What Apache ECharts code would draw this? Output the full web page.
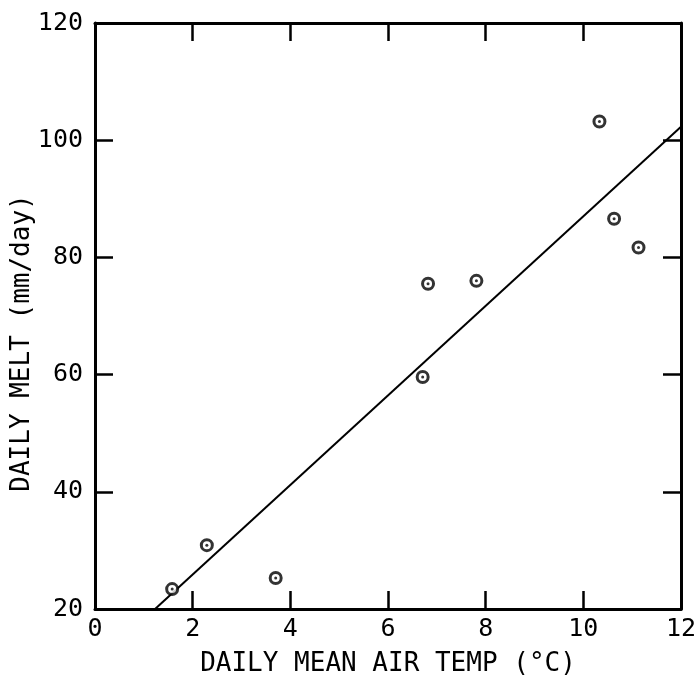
<!DOCTYPE html>
<html>
<head>
<meta charset="utf-8">
<script src="https://cdn.jsdelivr.net/npm/echarts@6/dist/echarts.min.js"></script>
<style>
html,body{margin:0;padding:0;background:#fff;}
#chart{width:700px;height:676px;}
</style>
</head>
<body>
<div id="chart"></div>
<script>
// Observed points: daily mean air temp (°C) vs daily melt (mm/day)
const airTemp = [1.58, 2.29, 3.70, 6.71, 6.82, 7.81, 10.33, 10.63, 11.13];
const dailyMelt = [23.4, 30.9, 25.3, 59.6, 75.5, 76.0, 103.2, 86.6, 81.7];
// Fitted line endpoints
const fitTemp = [1.23, 12.0];
const fitMelt = [20.0, 102.3];
const xTicks = [0, 2, 4, 6, 8, 10, 12];
const yTicks = [20, 40, 60, 80, 100, 120];
const xTitle = 'DAILY MEAN AIR TEMP (°C)';
const yTitle = 'DAILY MELT (mm/day)';

const font = "'DejaVu Sans Mono', 'Liberation Mono', monospace";
const pts = airTemp.map((x, i) => [x, dailyMelt[i]]);
const fit = fitTemp.map((x, i) => [x, fitMelt[i]]);

const chart = echarts.init(document.getElementById('chart'), null, {renderer: 'canvas'});
const axisLine = {show: true, onZero: false, lineStyle: {color: '#000', width: 3}};
const axisTick = {show: true, inside: true, length: 18, lineStyle: {color: '#000', width: 2.5}};
chart.setOption({
  animation: false,
  backgroundColor: '#fff',
  grid: {left: 95, right: 19, top: 23, bottom: 67, containLabel: false, outerBoundsMode: 'none'},
  xAxis: [{
    type: 'value', min: xTicks[0], max: xTicks[xTicks.length - 1], interval: 2,
    position: 'bottom',
    name: xTitle, nameLocation: 'middle', nameGap: 42,
    nameTextStyle: {fontFamily: font, fontSize: 26, color: '#000'},
    axisLine: axisLine, axisTick: axisTick, splitLine: {show: false},
    axisLabel: {fontFamily: font, fontSize: 25, color: '#000', margin: 8}
  }, {
    type: 'value', min: xTicks[0], max: xTicks[xTicks.length - 1], interval: 2,
    position: 'top',
    axisLine: axisLine, axisTick: axisTick, splitLine: {show: false},
    axisLabel: {show: false}
  }],
  yAxis: [{
    type: 'value', min: yTicks[0], max: yTicks[yTicks.length - 1], interval: 20,
    position: 'left',
    axisLine: axisLine, axisTick: axisTick, splitLine: {show: false},
    axisLabel: {fontFamily: font, fontSize: 25, color: '#000', margin: 12}
  }, {
    type: 'value', min: yTicks[0], max: yTicks[yTicks.length - 1], interval: 20,
    position: 'right',
    axisLine: axisLine, axisTick: axisTick, splitLine: {show: false},
    axisLabel: {show: false}
  }],
  graphic: [{
    type: 'text', x: 22, y: 343, rotation: Math.PI / 2,
    style: {text: yTitle, fontFamily: font, fontSize: 26, fill: '#000',
            align: 'center', verticalAlign: 'middle'}
  }],
  series: [{
    type: 'line', data: fit, symbol: 'none',
    lineStyle: {color: '#000', width: 2}, z: 2
  }, {
    type: 'scatter', data: pts, symbol: 'circle', symbolSize: 11,
    itemStyle: {color: '#fff', borderColor: '#000', borderWidth: 3}, z: 3
  }, {
    type: 'scatter', data: pts, symbol: 'circle', symbolSize: 3,
    itemStyle: {color: '#000'}, z: 4
  }]
});
</script>
</body>
</html>
